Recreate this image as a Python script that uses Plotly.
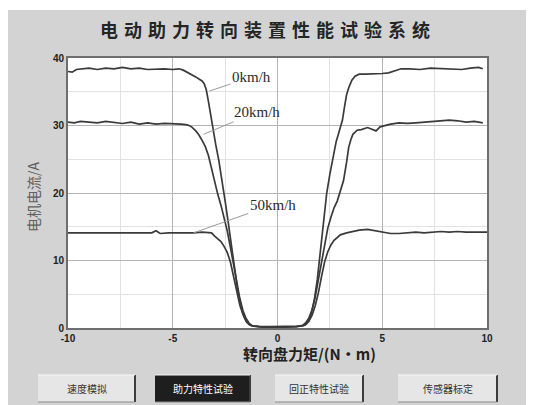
import plotly.graph_objects as go

# ---------------- data ----------------
torque_0 = [-10.0, -9.8, -9.6, -9.3, -9.0, -8.6, -8.2, -7.8, -7.4, -7.0, -6.6, -6.2, -5.8, -5.4, -5.0,
            -4.7, -4.5, -4.3, -4.1, -3.9, -3.75, -3.6, -3.5, -3.4, -3.3, -3.2, -3.1, -2.95, -2.8, -2.65,
            -2.5, -2.35, -2.2, -2.05, -1.9, -1.75, -1.6, -1.45, -1.3, -1.1, -0.8, -0.4, 0.0, 0.4, 0.8,
            1.1, 1.3, 1.45, 1.6, 1.75, 1.9, 2.05, 2.2, 2.35, 2.5, 2.65, 2.8, 2.95, 3.1, 3.2, 3.3, 3.4,
            3.55, 3.7, 3.9, 4.2, 4.6, 5.0, 5.3, 5.5, 5.7, 5.9, 6.3, 6.8, 7.3, 7.8, 8.3, 8.8, 9.2, 9.6, 9.8]
current_0 = [38.0, 37.9, 38.3, 38.4, 38.5, 38.3, 38.5, 38.4, 38.6, 38.4, 38.5, 38.3, 38.4, 38.4, 38.3,
             38.4, 38.2, 37.9, 37.5, 37.2, 36.9, 36.6, 36.2, 35.3, 33.6, 31.6, 29.7, 27.2, 24.8, 22.0,
             18.8, 15.6, 12.0, 8.6, 5.6, 3.3, 1.7, 0.8, 0.4, 0.3, 0.2, 0.2, 0.2, 0.2, 0.2,
             0.3, 0.4, 0.9, 2.0, 4.0, 7.2, 11.4, 16.0, 20.0, 22.8, 25.4, 27.6, 29.2, 30.8, 32.8, 34.6, 35.6,
             36.7, 37.3, 37.6, 37.6, 37.6, 37.7, 37.8, 38.0, 38.3, 38.4, 38.4, 38.3, 38.5, 38.4, 38.4, 38.3, 38.5, 38.6, 38.4]

torque_20 = [-10.0, -9.7, -9.4, -9.0, -8.6, -8.2, -7.8, -7.4, -7.0, -6.6, -6.2, -5.8, -5.4, -5.0, -4.6,
             -4.3, -4.1, -3.9, -3.75, -3.6, -3.45, -3.3, -3.15, -3.0, -2.85, -2.7, -2.55, -2.4, -2.25,
             -2.1, -1.95, -1.8, -1.65, -1.5, -1.35, -1.2, -0.9, -0.5, 0.0, 0.5, 0.9, 1.2, 1.35, 1.5,
             1.65, 1.8, 1.95, 2.1, 2.25, 2.4, 2.55, 2.7, 2.85, 3.0, 3.15, 3.3, 3.4, 3.5, 3.6, 3.8, 4.0,
             4.3, 4.5, 4.7, 4.9, 5.1, 5.4, 5.8, 6.2, 6.6, 7.0, 7.4, 7.8, 8.2, 8.6, 9.0, 9.4, 9.8]
current_20 = [30.5, 30.4, 30.6, 30.5, 30.4, 30.6, 30.4, 30.3, 30.5, 30.2, 30.4, 30.2, 30.3, 30.3, 30.2,
              30.1, 29.8, 29.2, 28.6, 27.8, 26.9, 25.6, 23.6, 21.4, 19.8, 18.2, 16.4, 14.4, 12.0,
              9.4, 6.8, 4.4, 2.6, 1.4, 0.7, 0.3, 0.2, 0.1, 0.1, 0.1, 0.2, 0.4, 0.8, 1.5,
              2.7, 4.6, 7.2, 10.2, 12.8, 14.8, 16.4, 17.8, 18.8, 20.4, 21.8, 24.6, 26.8, 27.9, 28.7, 29.3, 29.4,
              29.7, 29.5, 29.2, 29.8, 30.0, 30.2, 30.4, 30.3, 30.4, 30.5, 30.6, 30.7, 30.8, 30.7, 30.5, 30.6, 30.4]

torque_50 = [-10.0, -9.6, -9.2, -8.8, -8.4, -8.0, -7.6, -7.2, -6.8, -6.4, -6.0, -5.8, -5.6, -5.2, -4.8,
             -4.4, -4.0, -3.6, -3.3, -3.15, -3.0, -2.85, -2.7, -2.55, -2.4, -2.25, -2.1, -1.95, -1.8,
             -1.65, -1.5, -1.35, -1.2, -0.9, -0.5, 0.0, 0.5, 0.9, 1.2, 1.35, 1.5, 1.65, 1.8, 1.95,
             2.1, 2.25, 2.4, 2.55, 2.7, 2.85, 3.0, 3.3, 3.6, 3.9, 4.3, 4.7, 5.0, 5.4, 5.8, 6.2, 6.6,
             7.0, 7.4, 7.8, 8.2, 8.6, 9.0, 9.4, 9.8, 10.0]
current_50 = [14.1, 14.1, 14.0, 14.1, 14.1, 14.0, 14.1, 14.0, 14.1, 14.0, 14.1, 14.4, 14.0, 14.1, 14.1,
              14.0, 14.1, 14.2, 14.2, 14.1, 13.6, 13.2, 12.8, 12.1, 11.2, 9.8, 7.6, 5.3, 3.4,
              2.0, 1.0, 0.5, 0.3, 0.2, 0.1, 0.1, 0.1, 0.2, 0.3, 0.5, 1.0, 1.9, 3.3, 5.2,
              7.6, 9.8, 11.3, 12.3, 13.0, 13.4, 13.8, 14.1, 14.3, 14.5, 14.6, 14.4, 14.2, 14.0, 14.0, 14.1, 14.2,
              14.1, 14.2, 14.3, 14.2, 14.3, 14.2, 14.2, 14.3, 14.2]

series_names = ["0km/h", "20km/h", "50km/h"]
label_points_x = [-3.25, -3.53, -4.0]      # where each leader line touches its curve
label_points_y = [35.1, 28.7, 14.1]

x_ticks = [-10, -5, 0, 5, 10]
y_ticks = [0, 10, 20, 30, 40]

title_text = "电动助力转向装置性能试验系统"
x_title = "转向盘力矩/(N·m)"
y_title = "电机电流/A"
button_labels = ["速度模拟", "助力特性试验", "回正特性试验", "传感器标定"]

# ---------------- layout helpers (screen pixel -> paper) ----------------
W, H = 534, 405
OFF = 8                      # page body margin offsets the figure by 8 px
L, R, T, B = 60, 55, 50, 85  # margins in figure coordinates
PW, PH = W - L - R, H - T - B


def px(xs):
    return (xs - OFF - L) / PW


def py(ys):
    return (H - B - (ys - OFF)) / PH


fig = go.Figure()
line_style = dict(color="#3a3a3a", width=1.7)
for xs, ys, nm in [(torque_0, current_0, series_names[0]),
                   (torque_20, current_20, series_names[1]),
                   (torque_50, current_50, series_names[2])]:
    fig.add_trace(go.Scatter(x=xs, y=ys, mode="lines", name=nm, line=line_style,
                             showlegend=False, hoverinfo="skip"))

annotations = []
offsets = [(42, -14), (53, -22), (79, -28)]
for nm, lx, ly, (ax, ay) in zip(series_names, label_points_x, label_points_y, offsets):
    annotations.append(dict(x=lx, y=ly, xref="x", yref="y", text=nm, showarrow=True,
                            arrowhead=0, arrowwidth=1, arrowcolor="#9a9a9a", ax=ax, ay=ay,
                            axref="pixel", ayref="pixel",
                            font=dict(family="Liberation Serif", size=15, color="#2a2a2a")))

# title
spaced_title = "\u2004".join(list(title_text))
annotations.append(dict(x=px(265), y=py(29), xref="paper", yref="paper", text=spaced_title,
                        showarrow=False, xanchor="center", yanchor="middle",
                        font=dict(family="Noto Sans CJK SC", size=18, color="#252525", weight="bold")))
# axis titles
annotations.append(dict(x=px(309), y=py(353), xref="paper", yref="paper", text=x_title,
                        showarrow=False, xanchor="center", yanchor="middle",
                        font=dict(family="Noto Sans CJK SC", size=15, color="#222222", weight="bold")))
annotations.append(dict(x=px(33), y=py(197), xref="paper", yref="paper", text=y_title,
                        showarrow=False, xanchor="center", yanchor="middle", textangle=-90,
                        font=dict(family="Noto Sans CJK SC", size=14, color="#606060")))

shapes = []
# thin white strip at the very top of the panel
shapes.append(dict(type="rect", xref="paper", yref="paper", x0=px(OFF), x1=px(W + OFF), y0=py(OFF), y1=py(10),
                   fillcolor="#ffffff", line=dict(width=0), layer="below"))

# buttons
btn_x = [(38, 135), (155, 250), (275, 363), (398, 497)]
btn_top, btn_bot = 375, 402
for i, ((x0, x1), lab) in enumerate(zip(btn_x, button_labels)):
    active = (i == 1)
    face = "#1e1e1e" if active else "#e6e6e6"
    shapes.append(dict(type="rect", xref="paper", yref="paper", x0=px(x0), x1=px(x1),
                       y0=py(btn_bot), y1=py(btn_top), fillcolor=face, line=dict(width=0)))
    shapes.append(dict(type="line", xref="paper", yref="paper", x0=px(x1), x1=px(x1),
                       y0=py(btn_bot), y1=py(btn_top), line=dict(color="#3c3c3c", width=2)))
    shapes.append(dict(type="line", xref="paper", yref="paper", x0=px(x0), x1=px(x1),
                       y0=py(btn_bot), y1=py(btn_bot), line=dict(color="#8a8a8a", width=1)))
    shapes.append(dict(type="line", xref="paper", yref="paper", x0=px(x0), x1=px(x1),
                       y0=py(btn_top), y1=py(btn_top), line=dict(color="#f6f6f6", width=1)))
    annotations.append(dict(x=px((x0 + x1) / 2), y=py((btn_top + btn_bot) / 2), xref="paper", yref="paper",
                            text=lab, showarrow=False, xanchor="center", yanchor="middle",
                            font=dict(family="Noto Sans CJK SC", size=10,
                                      color="#ffffff" if active else "#333333")))

fig.update_layout(
    width=W, height=H,
    margin=dict(l=L, r=R, t=T, b=B, pad=0),
    paper_bgcolor="#d3d3d3",
    plot_bgcolor="#ffffff",
    shapes=shapes,
    annotations=annotations,
    showlegend=False,
)
fig.update_xaxes(range=[-10, 10], tickmode="array", tickvals=x_ticks,
                 ticktext=[str(v) for v in x_ticks],
                 showline=True, mirror=True, linecolor="#6e6e6e", linewidth=2,
                 showgrid=True, gridcolor="#b4b4b4", gridwidth=1, zeroline=False, ticks="",
                 minor=dict(dtick=2.5, tick0=0, showgrid=True, gridcolor="#e2e2e2", gridwidth=1),
                 tickfont=dict(family="Liberation Sans", size=10, color="#222222", weight="bold"))
fig.update_yaxes(range=[0, 40], tickmode="array", tickvals=y_ticks,
                 ticktext=[str(v) for v in y_ticks],
                 showline=True, mirror=True, linecolor="#6e6e6e", linewidth=2,
                 showgrid=True, gridcolor="#b4b4b4", gridwidth=1, zeroline=False, ticks="",
                 minor=dict(dtick=5, tick0=0, showgrid=True, gridcolor="#e2e2e2", gridwidth=1),
                 tickfont=dict(family="Liberation Sans", size=10, color="#222222", weight="bold"))

fig.write_html("out.html")
